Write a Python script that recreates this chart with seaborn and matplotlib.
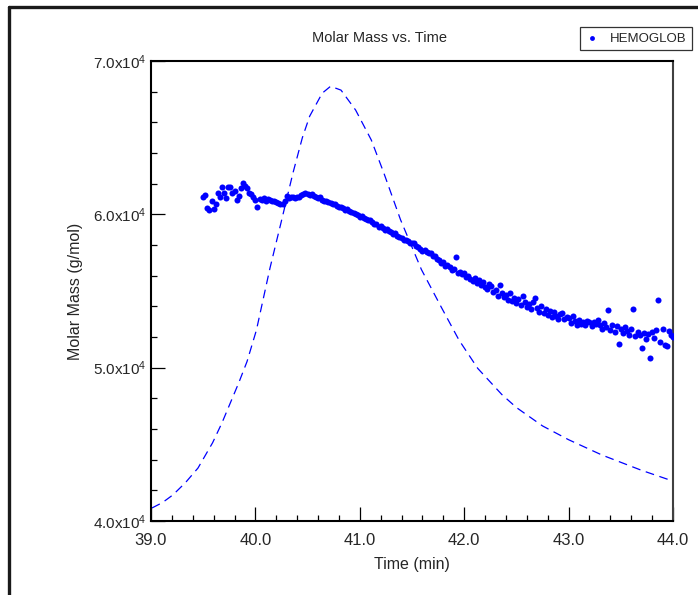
import numpy as np
import matplotlib
matplotlib.use("Agg")
import matplotlib.pyplot as plt
import seaborn as sns
from matplotlib.ticker import FixedLocator, MultipleLocator, FormatStrFormatter
from matplotlib.lines import Line2D

# scatter: molar mass, sampled every 0.02 min starting at 39.50 min
T0 = 39.50
DT = 0.02
molar_mass = [
    61150, 61250, 60400, 60300, 60900, 60350, 60650, 61400, 61100, 61800,
    61400, 61050, 61800, 61750, 61400, 61550, 60950, 61200, 61700, 62050,
    61850, 61700, 61400, 61350, 61100, 60950, 60480, 61000, 60950, 61050,
    60900, 61000, 60950, 60850, 60900, 60800, 60750, 60650, 60700, 60900,
    61200, 61050, 61100, 61150, 61050, 61150, 61100, 61250, 61350, 61400,
    61300, 61250, 61300, 61200, 61150, 61050, 61100, 60950, 60900, 60850,
    60800, 60750, 60650, 60700, 60550, 60500, 60450, 60400, 60300, 60350,
    60200, 60150, 60100, 60050, 59950, 59850, 59900, 59750, 59700, 59600,
    59650, 59500, 59400, 59350, 59200, 59250, 59100, 59000, 59050, 58900,
    58850, 58700, 58750, 58600, 58500, 58450, 58350, 58300, 58250, 58100,
    58150, 58100, 57950, 57900, 57750, 57600, 57700, 57550, 57450, 57500,
    57250, 57300, 57100, 57000, 56850, 56900, 56600, 56700, 56550, 56350,
    56450, 57200, 56150, 56250, 56100, 56200, 55900, 56000, 55800, 55650,
    55850, 55550, 55700, 55400, 55600, 55250, 55150, 55450, 55300, 54950,
    55050, 54700, 55400, 54850, 54600, 54750, 54400, 54900, 54350, 54550,
    54200, 54450, 54100, 54650, 54300, 53950, 54150, 53800, 54300, 54550,
    53900, 53650, 54000, 53550, 53800, 53450, 53700, 53300, 53650, 53400,
    53200, 53500, 53550, 53150, 53300, 53250, 52900, 53400, 53050, 52800,
    53100, 52850, 53000, 52750, 53050, 52950, 52700, 53000, 52850, 53100,
    52800, 52550, 52900, 52650, 53750, 52450, 52800, 52350, 52700, 51550,
    52550, 52250, 52650, 52400, 52150, 52550, 53850, 52050, 52350, 52100,
    51300, 52250, 51900, 52200, 50650, 52350, 51950, 52450, 54400, 51650,
    52550, 51500, 51400, 52400, 52150, 52000,
]
sample_time = T0 + DT * np.arange(len(molar_mass))

# dashed concentration trace, scaled onto the same axis
peak_time = [39.01, 39.11, 39.21, 39.33, 39.45, 39.59, 39.68, 39.76, 39.84, 39.92,
             40.01, 40.14, 40.24, 40.36, 40.45, 40.52, 40.58, 40.64, 40.72, 40.82,
             40.96, 41.11, 41.23, 41.39, 41.59, 41.78, 41.95, 42.13, 42.36, 42.50,
             42.75, 43.00, 43.32, 43.70, 44.00]
peak_mass = [40850, 41200, 41700, 42500, 43450, 45100, 46400, 47700, 49000, 50400,
             52450, 56500, 59300, 62700, 65000, 66400, 67150, 67900, 68350, 68100,
             66800, 64850, 62700, 59650, 56400, 53950, 51800, 49950, 48250, 47400,
             46200, 45300, 44300, 43300, 42600]

y_ticks = [40000, 50000, 60000, 70000]
y_tick_labels = [r"4.0x10$^4$", r"5.0x10$^4$", r"6.0x10$^4$", r"7.0x10$^4$"]

sns.set_style("white")
plt.rcParams["font.family"] = ["Liberation Sans", "DejaVu Sans"]
plt.rcParams["mathtext.fontset"] = "custom"
plt.rcParams["mathtext.rm"] = "Liberation Sans"
plt.rcParams["mathtext.it"] = "Liberation Sans:italic"
plt.rcParams["mathtext.bf"] = "Liberation Sans:bold"

fig = plt.figure(figsize=(6.98, 5.95), dpi=100)
fig.patch.set_facecolor("white")
ax = fig.add_axes([0.2163, 0.1244, 0.7479, 0.7731])

sns.lineplot(x=peak_time, y=peak_mass, ax=ax, color="#0000ff", linewidth=0.9,
             linestyle=(0, (7, 4.5)))
sns.scatterplot(x=sample_time, y=molar_mass, ax=ax, color="#0000ff", s=19,
                linewidth=0, label="HEMOGLOB", zorder=3)
handles, labels = ax.get_legend_handles_labels()
if ax.get_legend() is not None:
    ax.get_legend().remove()

ax.set_xlim(39.0, 44.0)
ax.set_ylim(40000, 70000)
ax.xaxis.set_major_locator(MultipleLocator(1.0))
ax.xaxis.set_minor_locator(MultipleLocator(0.2))
ax.xaxis.set_major_formatter(FormatStrFormatter("%.1f"))
ax.yaxis.set_major_locator(FixedLocator(y_ticks))
ax.set_yticklabels(y_tick_labels)
ax.yaxis.set_minor_locator(MultipleLocator(2000))

ax.tick_params(axis="both", which="both", direction="in", top=False, right=False,
               left=True, bottom=True, color="black")
ax.tick_params(axis="both", which="major", length=10, width=0.9)
ax.tick_params(axis="both", which="minor", length=4.3, width=0.9)
ax.tick_params(axis="x", which="major", labelsize=12, pad=9)
ax.tick_params(axis="y", which="major", labelsize=11, pad=3)

for side in ["left", "bottom", "top"]:
    ax.spines[side].set_color("black")
    ax.spines[side].set_linewidth(1.5)
ax.spines["right"].set_color("#404040")
ax.spines["right"].set_linewidth(1.5)

fig.text(0.543, 0.936, "Molar Mass vs. Time", fontsize=10.5, ha="center", va="center")
ax.set_xlabel("Time (min)", fontsize=11.5)
ax.set_ylabel("Molar Mass (g/mol)", fontsize=11.5)
ax.xaxis.set_label_coords(0.5, -0.078)
ax.yaxis.set_label_coords(-0.13, 0.5)

leg = fig.legend(handles, labels, loc="upper right", bbox_to_anchor=(0.9914, 0.9546),
                 fontsize=9.5, frameon=True, fancybox=False, borderpad=0.4,
                 handlelength=1.0, handletextpad=0.9, borderaxespad=0, markerscale=0.8)
leg.get_frame().set_edgecolor("black")
leg.get_frame().set_linewidth(0.9)

# window-style frame along the top and left edges
fig.add_artist(Line2D([0.0129, 1.0], [0.988, 0.988], color="#1a1a1a", linewidth=2.4))
fig.add_artist(Line2D([0.0129, 0.0129], [0.0, 0.988], color="#1a1a1a", linewidth=2.4))

fig.savefig("out.png", dpi=100)
